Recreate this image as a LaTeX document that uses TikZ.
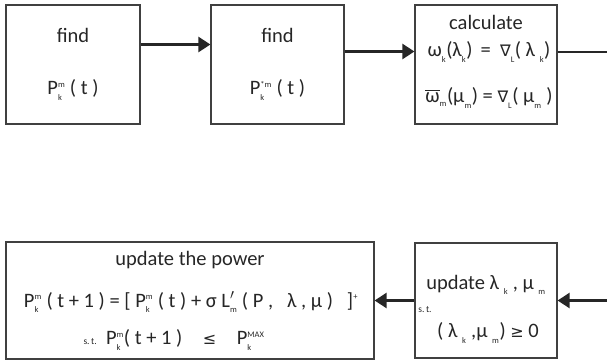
\documentclass[tikz,border=0pt]{standalone}
\usepackage{amsmath}
\usepackage{fontspec}
\setmainfont{Carlito}
\newfontfamily\symf{DejaVu Sans}
\usetikzlibrary{arrows.meta}
\newcommand\sm[1]{\text{\fontsize{8.5}{10}\selectfont #1}}
\newcommand\ps[3]{\ensuremath{\text{#1}^{\sm{#2}}_{\sm{#3}}}}
\newcommand\nab{{\symf\fontsize{16}{16}\selectfont ∇}}
\newcommand\leqs{{\symf\fontsize{16}{16}\selectfont ≤}}
\newcommand\geqs{{\symf\fontsize{16}{16}\selectfont ≥}}

\begin{document}
\begin{tikzpicture}[x=1pt,y=-1pt,
  box/.style={draw=black!75,line width=1.2pt,inner sep=0pt},
  txt/.style={font=\fontsize{20.5}{24}\selectfont,text=black!85,inner sep=0pt},
  arr/.style={line width=2.6pt,black!85,-{Triangle[length=12pt,width=15pt]}}]
\useasboundingbox (0,0) rectangle (607,362);
% boxes
\node[box,minimum width=134pt,minimum height=119pt] (find1) at (73,64.5) {};
\node[box,minimum width=133pt,minimum height=119pt] (find2) at (277.5,64.5) {};
\node[box,minimum width=142pt,minimum height=119pt] (calc) at (486,64.5) {};
\node[box,minimum width=368pt,minimum height=117pt] (power) at (190,300.5) {};
\node[box,minimum width=142pt,minimum height=115pt] (mult) at (486,300.5) {};
\coordinate (out) at (607,52);
\coordinate (in) at (607,300.5);
% texts
\node[txt] (f1a) at (73,35) {find};
\node[txt] (f1b) at (73,90) {\ps{P}{m}{k}\ ( t )};
\node[txt] (f2a) at (277.5,35) {find};
\node[txt] (f2b) at (277.5,90) {\ps{P}{*m}{k}\ ( t )};
\node[txt] (c1) at (486,22) {calculate};
\node[txt] (c2) at (489,52) {\ps{ω}{}{k}(\ps{λ}{}{k}) \,=\ \ \ps{\nab}{}{L}( \ps{λ\ }{}{k})};
\node[txt] (c3) at (489,98) {\ensuremath{\overline{\text{ω}}_{\sm{m}}}(\ps{μ}{}{m}) = \ps{\nab}{}{L}( \ps{μ}{}{m} )};
\node[txt] (p1) at (190,260) {update the power};
\node[txt] (p2) at (191,302) {\ps{P}{m}{k}\ ( t + 1 ) = [ \ps{P}{m}{k}\ ( t ) + σ\ \ensuremath{\text{L}'_{\sm{m}}}\ ( P ,\ \ \ λ , μ )\ \ \ ]\ensuremath{^{\sm{+}}}};
\node[txt] (p3) at (174,340) {{\fontsize{9.5}{10}\selectfont s.\,t.}\ \ \ps{P}{m}{k}( t + 1 )\quad\leqs\quad\ps{P}{MAX}{k}};
\node[txt] (m1) at (486,285) {update \ps{λ\ }{}{k} , \ps{μ\ }{}{m}};
\node[txt,font=\fontsize{9.5}{10}\selectfont] (m2) at (425,310) {s.\,t.};
\node[txt] (m3) at (488,333) {( \ps{λ\ }{}{k} ,\ps{μ\ }{}{m}) \geqs\ 0};
% connectors
\draw[arr] ([yshift=20pt]find1.east) -- ([yshift=20pt]find1.east -| find2.west);
\draw[arr] ([yshift=13pt]find2.east) -- ([yshift=13pt]find2.east -| calc.west);
\draw[line width=2.6pt,black!85] ([yshift=12.5pt]calc.east) -- (out);
\draw[arr] (in) -- (mult.east);
\draw[arr] (mult.west) -- (power.east);
\end{tikzpicture}
\end{document}
